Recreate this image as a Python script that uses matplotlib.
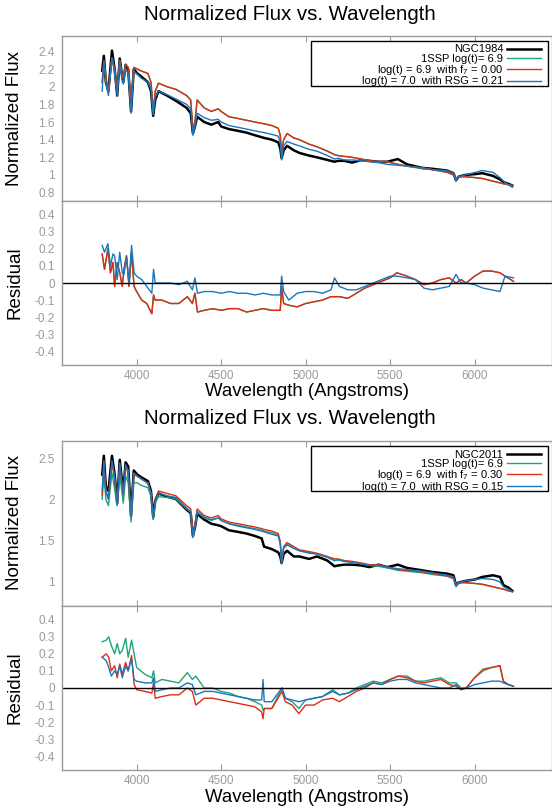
#!/usr/bin/env python3

from matplotlib import pyplot as plt
from matplotlib.patches import Rectangle

plt.rcParams["font.family"] = ["Liberation Sans", "DejaVu Sans"]
plt.rcParams["mathtext.fontset"] = "custom"
plt.rcParams["mathtext.rm"] = "Liberation Sans"

# ---- NGC1984 ----
wave1 = [3796, 3806, 3818, 3833, 3854, 3870, 3885, 3900, 3912, 3921, 3935, 3950,
         3967, 3983, 4004, 4025, 4067, 4085, 4098, 4110, 4129, 4180, 4233, 4296,
         4320, 4333, 4345, 4358, 4400, 4442, 4483, 4500, 4546, 4600, 4650, 4700,
         4754, 4800, 4838, 4850, 4858, 4870, 4890, 4930, 4963, 5020, 5067, 5129,
         5171, 5192, 5230, 5275, 5330, 5379, 5430, 5483, 5546, 5600, 5692, 5750,
         5838, 5875, 5890, 5905, 5942, 6004, 6046, 6108, 6150, 6171, 6200, 6223]
obs1 = [2.18, 2.35, 2.05, 1.95, 2.41, 2.2, 1.9, 2.32, 2.15, 2.05, 2.25, 2.2,
        1.72, 2.2, 2.15, 2.12, 2.05, 1.95, 1.67, 1.85, 1.95, 1.9, 1.84, 1.76,
        1.7, 1.47, 1.55, 1.66, 1.6, 1.57, 1.6, 1.55, 1.52, 1.5, 1.48, 1.45,
        1.42, 1.4, 1.37, 1.3, 1.19, 1.28, 1.33, 1.28, 1.25, 1.22, 1.2, 1.17,
        1.15, 1.16, 1.16, 1.14, 1.17, 1.16, 1.15, 1.15, 1.18, 1.12, 1.08, 1.07,
        1.05, 1.02, 0.94, 0.98, 1.0, 1.01, 1.02, 0.99, 0.95, 0.92, 0.9, 0.88]
f7_1 = [2.05, 2.28, 2.1, 1.95, 2.33, 2.2, 1.95, 2.3, 2.15, 2.1, 2.25, 2.22,
        1.8, 2.22, 2.2, 2.18, 2.15, 2.05, 1.72, 1.95, 2.04, 2.0, 1.97, 1.9,
        1.85, 1.52, 1.6, 1.85, 1.76, 1.72, 1.75, 1.72, 1.66, 1.64, 1.62, 1.6,
        1.58, 1.56, 1.53, 1.45, 1.25, 1.4, 1.47, 1.42, 1.4, 1.35, 1.32, 1.27,
        1.23, 1.22, 1.21, 1.2, 1.18, 1.16, 1.15, 1.15, 1.12, 1.1, 1.08, 1.06,
        1.03, 1.0, 0.96, 0.98, 0.98, 0.97, 0.96, 0.93, 0.91, 0.9, 0.89, 0.88]
ssp1 = f7_1  # f_7 = 0.00, same model
rsg1 = [1.95, 2.3, 2.05, 1.9, 2.33, 2.15, 1.9, 2.28, 2.1, 2.03, 2.2, 2.15,
        1.7, 2.18, 2.14, 2.1, 2.05, 1.97, 1.68, 1.88, 1.95, 1.91, 1.86, 1.8,
        1.75, 1.45, 1.55, 1.7, 1.65, 1.62, 1.63, 1.6, 1.56, 1.54, 1.52, 1.5,
        1.48, 1.46, 1.44, 1.37, 1.17, 1.33, 1.38, 1.35, 1.33, 1.29, 1.27, 1.22,
        1.18, 1.19, 1.17, 1.17, 1.16, 1.15, 1.14, 1.12, 1.11, 1.1, 1.07, 1.06,
        1.05, 1.02, 0.93, 0.98, 1.0, 1.03, 1.05, 1.03, 0.97, 0.93, 0.89, 0.86]

rwave1 = [3796, 3810, 3830, 3845, 3860, 3870, 3885, 3900, 3915, 3925, 3940, 3955,
          3970, 3985, 4000, 4030, 4060, 4090, 4100, 4110, 4150, 4200, 4250, 4300,
          4330, 4345, 4360, 4400, 4450, 4500, 4550, 4600, 4650, 4700, 4750, 4800,
          4850, 4858, 4870, 4900, 4950, 5000, 5050, 5100, 5150, 5171, 5200, 5250,
          5300, 5350, 5400, 5450, 5500, 5540, 5600, 5650, 5700, 5750, 5800, 5850,
          5890, 5920, 5950, 6000, 6050, 6100, 6150, 6180, 6230]
res_f7_1 = [0.17, 0.08, 0.2, 0.06, 0.12, -0.02, 0.12, 0.06, -0.02, 0.08, 0.16, -0.02,
            0.18, -0.02, -0.05, -0.1, -0.12, -0.18, -0.07, -0.1, -0.1, -0.12, -0.12, -0.08,
            -0.12, -0.06, -0.17, -0.16, -0.15, -0.16, -0.15, -0.15, -0.17, -0.16, -0.15, -0.16,
            -0.16, -0.02, -0.12, -0.13, -0.14, -0.12, -0.11, -0.1, -0.08, -0.08, -0.08, -0.09,
            -0.06, -0.03, -0.01, 0.01, 0.03, 0.06, 0.04, 0.02, -0.01, 0.0, 0.02, 0.03,
            0.0, 0.02, 0.0, 0.04, 0.07, 0.07, 0.06, 0.04, 0.01]
res_ssp1 = res_f7_1
res_rsg1 = [0.22, 0.18, 0.23, 0.1, 0.17, 0.16, 0.02, 0.18, 0.06, 0.05, 0.15, 0.0,
            0.22, 0.06, 0.04, 0.02, -0.02, -0.06, 0.08, 0.0, 0.0, 0.0, -0.01, 0.01,
            -0.04, 0.03, -0.06, -0.05, -0.05, -0.06, -0.05, -0.06, -0.06, -0.07, -0.06, -0.07,
            -0.07, 0.04, -0.05, -0.1, -0.06, -0.05, -0.05, -0.06, -0.04, 0.03, -0.02, -0.04,
            -0.04, -0.02, 0.0, 0.02, 0.04, 0.04, 0.03, 0.02, -0.03, -0.04, -0.03, -0.02,
            0.05, 0.0, 0.0, -0.01, -0.03, -0.04, -0.05, 0.04, 0.03]

# ---- NGC2011 ----
wave2 = [3796, 3806, 3818, 3833, 3854, 3870, 3885, 3900, 3912, 3921, 3935, 3950,
         3967, 3983, 4004, 4025, 4067, 4085, 4098, 4110, 4129, 4180, 4233, 4296,
         4320, 4333, 4345, 4358, 4400, 4442, 4483, 4500, 4546, 4600, 4650, 4700,
         4740, 4754, 4800, 4838, 4850, 4858, 4870, 4890, 4930, 4963, 5020, 5067,
         5129, 5171, 5192, 5230, 5275, 5330, 5379, 5430, 5483, 5546, 5600, 5692,
         5750, 5838, 5875, 5890, 5905, 5942, 6004, 6046, 6108, 6150, 6171, 6200, 6223]
obs2 = [2.3, 2.53, 2.15, 2.1, 2.53, 2.3, 1.95, 2.48, 2.25, 2.1, 2.45, 2.4,
        1.8, 2.35, 2.3, 2.27, 2.22, 2.1, 1.78, 1.98, 2.07, 2.03, 2.0, 1.87,
        1.83, 1.55, 1.65, 1.82, 1.75, 1.7, 1.68, 1.67, 1.62, 1.6, 1.58, 1.55,
        1.52, 1.42, 1.39, 1.35, 1.3, 1.22, 1.33, 1.37, 1.3, 1.3, 1.27, 1.3,
        1.25, 1.18, 1.19, 1.2, 1.2, 1.19, 1.17, 1.2, 1.17, 1.2, 1.16, 1.13,
        1.11, 1.09, 1.07, 0.95, 0.98, 1.0, 1.02, 1.05, 1.07, 1.05, 0.95, 0.92, 0.88]
ssp2 = [2.0, 2.3, 2.0, 1.92, 2.32, 2.12, 1.92, 2.3, 2.1, 1.95, 2.28, 2.2,
        1.72, 2.2, 2.2, 2.17, 2.14, 2.03, 1.75, 1.95, 2.03, 2.02, 2.0, 1.88,
        1.84, 1.55, 1.65, 1.84, 1.77, 1.74, 1.77, 1.74, 1.7, 1.68, 1.66, 1.64,
        1.62, 1.61, 1.59, 1.56, 1.47, 1.23, 1.4, 1.45, 1.4, 1.37, 1.35, 1.33,
        1.29, 1.25, 1.26, 1.24, 1.23, 1.21, 1.19, 1.18, 1.16, 1.13, 1.12, 1.1,
        1.08, 1.06, 1.03, 0.95, 0.98, 0.98, 0.97, 0.96, 0.93, 0.91, 0.9, 0.88, 0.87]
f7_2 = [2.05, 2.45, 2.1, 2.0, 2.45, 2.25, 1.95, 2.42, 2.2, 2.05, 2.4, 2.33,
        1.8, 2.3, 2.28, 2.25, 2.2, 2.08, 1.78, 2.0, 2.1, 2.07, 2.04, 1.92,
        1.88, 1.58, 1.68, 1.88, 1.8, 1.77, 1.8, 1.76, 1.72, 1.7, 1.68, 1.66,
        1.64, 1.63, 1.61, 1.58, 1.48, 1.24, 1.42, 1.47, 1.42, 1.38, 1.36, 1.34,
        1.3, 1.27, 1.27, 1.25, 1.24, 1.22, 1.2, 1.2, 1.17, 1.14, 1.13, 1.11,
        1.09, 1.06, 1.03, 0.95, 0.98, 0.98, 0.97, 0.96, 0.93, 0.91, 0.9, 0.88, 0.87]
rsg2 = [2.1, 2.47, 2.1, 2.0, 2.47, 2.27, 1.93, 2.44, 2.22, 2.05, 2.42, 2.35,
        1.78, 2.32, 2.28, 2.25, 2.19, 2.07, 1.76, 1.98, 2.07, 2.04, 2.02, 1.89,
        1.85, 1.53, 1.65, 1.85, 1.78, 1.75, 1.77, 1.74, 1.7, 1.67, 1.65, 1.63,
        1.61, 1.6, 1.57, 1.55, 1.45, 1.21, 1.4, 1.44, 1.4, 1.37, 1.34, 1.33,
        1.29, 1.25, 1.26, 1.24, 1.23, 1.21, 1.19, 1.19, 1.17, 1.15, 1.14, 1.12,
        1.1, 1.07, 1.05, 0.93, 0.98, 1.0, 1.02, 1.03, 1.02, 0.99, 0.93, 0.9, 0.87]

rwave2 = [3796, 3820, 3835, 3850, 3870, 3885, 3900, 3915, 3935, 3950, 3970, 3985,
          4000, 4050, 4090, 4100, 4110, 4150, 4200, 4250, 4300, 4330, 4350, 4400,
          4450, 4500, 4550, 4600, 4650, 4700, 4740, 4748, 4755, 4800, 4860, 4880,
          4920, 4960, 5000, 5050, 5100, 5160, 5200, 5250, 5300, 5350, 5400, 5450,
          5500, 5550, 5600, 5650, 5700, 5750, 5800, 5850, 5890, 5920, 5950, 6000,
          6050, 6100, 6150, 6170, 6200, 6230]
res_ssp2 = [0.27, 0.28, 0.3, 0.25, 0.2, 0.26, 0.2, 0.22, 0.29, 0.18, 0.28, 0.2,
            0.12, 0.08, 0.06, 0.1, 0.03, 0.05, 0.04, 0.03, 0.09, 0.05, 0.07, 0.0,
            0.0, -0.02, -0.03, -0.05, -0.06, -0.08, -0.1, -0.13, -0.12, -0.12, 0.0, -0.06,
            -0.08, -0.12, -0.07, -0.06, -0.05, -0.01, -0.04, -0.03, 0.0, 0.02, 0.04, 0.03,
            0.05, 0.07, 0.07, 0.04, 0.04, 0.05, 0.06, 0.03, 0.03, 0.0, 0.0, 0.06,
            0.1, 0.12, 0.13, 0.04, 0.02, 0.01]
res_f7_2 = [0.18, 0.2, 0.18, 0.1, 0.13, 0.06, 0.14, 0.08, 0.15, 0.1, 0.19, 0.02,
            -0.01, -0.02, -0.03, 0.03, -0.06, -0.05, -0.04, -0.04, 0.0, -0.02, -0.1, -0.06,
            -0.06, -0.07, -0.08, -0.09, -0.1, -0.11, -0.14, -0.18, -0.12, -0.12, -0.02, -0.08,
            -0.1, -0.15, -0.1, -0.1, -0.07, -0.06, -0.08, -0.05, -0.02, 0.0, 0.03, 0.02,
            0.05, 0.07, 0.06, 0.04, 0.03, 0.04, 0.05, 0.02, 0.01, -0.01, 0.0, 0.06,
            0.11, 0.12, 0.13, 0.04, 0.02, 0.01]
res_rsg2 = [0.18, 0.16, 0.12, 0.07, 0.1, 0.08, 0.13, 0.06, 0.13, 0.1, 0.17, 0.05,
            0.04, 0.03, 0.03, 0.06, -0.02, -0.01, 0.0, 0.0, 0.03, 0.02, -0.04, -0.02,
            -0.02, -0.03, -0.04, -0.05, -0.06, -0.07, -0.07, 0.05, -0.08, -0.08, 0.0, -0.06,
            -0.07, -0.08, -0.07, -0.06, -0.05, -0.02, -0.04, -0.03, -0.01, 0.01, 0.03, 0.02,
            0.04, 0.05, 0.05, 0.03, 0.02, 0.01, 0.0, 0.0, 0.02, -0.01, 0.0, 0.02,
            0.03, 0.04, 0.04, 0.03, 0.02, 0.01]

flux_ticks1 = [0.8, 1.0, 1.2, 1.4, 1.6, 1.8, 2.0, 2.2, 2.4]
flux_ticks2 = [1.0, 1.5, 2.0, 2.5]
res_ticks = [-0.4, -0.3, -0.2, -0.1, 0.0, 0.1, 0.2, 0.3, 0.4]
wave_ticks = [4000, 4500, 5000, 5500, 6000]

BLACK = "#000000"
GREEN = "#1fa476"
RED = "#de2d12"
BLUE = "#1b76bd"
GRAY = "#9a9a9a"

W, H = 552, 809
LEFT = 61.6 / W


def style_axis(ax, yticks):
    ax.set_xlim(3556, 6458)
    ax.set_xticks(wave_ticks)
    ax.set_yticks(yticks)
    ax.set_yticklabels([f"{t:g}" for t in yticks])
    ax.tick_params(axis="x", direction="in", top=True, bottom=True,
                   length=4, color=GRAY, labelcolor=GRAY, labelsize=8.5)
    ax.tick_params(axis="y", length=0, labelcolor=GRAY, labelsize=8.5, pad=5)
    for sp in ax.spines.values():
        sp.set_color(GRAY)
        sp.set_linewidth(1.0)


def add_block(fig, top_px, name, wave, obs, ssp, f7, rsg, f7_val, rsg_val,
              flux_ticks, flux_lim, rwave, r_ssp, r_f7, r_rsg):
    ax = fig.add_axes([LEFT, 1 - (top_px + 165) / H, 1 - LEFT, 165 / H])
    ax.plot(wave, obs, color=BLACK, lw=1.8, label=name)
    ax.plot(wave, ssp, color=GREEN, lw=1.0, label="1SSP log(t)= 6.9")
    ax.plot(wave, f7, color=RED, lw=1.0,
            label=r"log(t) = 6.9  with $\mathrm{f}_7$ = " + f7_val)
    ax.plot(wave, rsg, color=BLUE, lw=1.0,
            label="log(t) = 7.0  with RSG = " + rsg_val)
    style_axis(ax, flux_ticks)
    ax.set_ylim(*flux_lim)
    ax.tick_params(axis="x", labelbottom=False)

    # fixed-size legend box, entries right-aligned inside it
    box = Rectangle((311 / W, 1 - (top_px + 50) / H), 237 / W, 45 / H,
                    transform=fig.transFigure, facecolor="white",
                    edgecolor="black", lw=1.0, zorder=4)
    ax.add_artist(box)
    leg = ax.legend(loc="upper right",
                    bbox_to_anchor=(541 / W, 1 - (top_px + 8.5) / H),
                    bbox_transform=fig.transFigure, markerfirst=False,
                    fontsize=8, frameon=False, borderpad=0,
                    labelspacing=-0.06, handlelength=3.1, handletextpad=0.3,
                    borderaxespad=0)
    leg.set_zorder(5)

    rax = fig.add_axes([LEFT, 1 - (top_px + 329) / H, 1 - LEFT, 164 / H])
    rax.plot(rwave, r_ssp, color=GREEN, lw=1.0)
    rax.plot(rwave, r_f7, color=RED, lw=1.0)
    rax.plot(rwave, r_rsg, color=BLUE, lw=1.0)
    rax.axhline(0, color="black", lw=1.0)
    style_axis(rax, res_ticks)
    rax.set_ylim(-0.48, 0.48)

    fig.text(15 / W, 1 - (top_px + 82) / H, "Normalized Flux", rotation=90,
             ha="center", va="center", fontsize=13.5)
    fig.text(15 / W, 1 - (top_px + 247) / H, "Residual", rotation=90,
             ha="center", va="center", fontsize=13.5)
    fig.text(307 / W, 1 - (top_px + 356) / H, "Wavelength (Angstroms)",
             ha="center", va="center", fontsize=13.4)
    fig.text(290 / W, 1 - (top_px - 22) / H, "Normalized Flux vs. Wavelength",
             ha="center", va="center", fontsize=14.7)


def main():
    fig = plt.figure(figsize=(W / 100, H / 100), dpi=100)
    add_block(fig, 36, "NGC1984", wave1, obs1, ssp1, f7_1, rsg1, "0.00", "0.21",
              flux_ticks1, (0.705, 2.575), rwave1, res_ssp1, res_f7_1, res_rsg1)
    add_block(fig, 441, "NGC2011", wave2, obs2, ssp2, f7_2, rsg2, "0.30", "0.15",
              flux_ticks2, (0.695, 2.71), rwave2, res_ssp2, res_f7_2, res_rsg2)
    fig.savefig("out.png", dpi=100)


if __name__ == "__main__":
    main()
